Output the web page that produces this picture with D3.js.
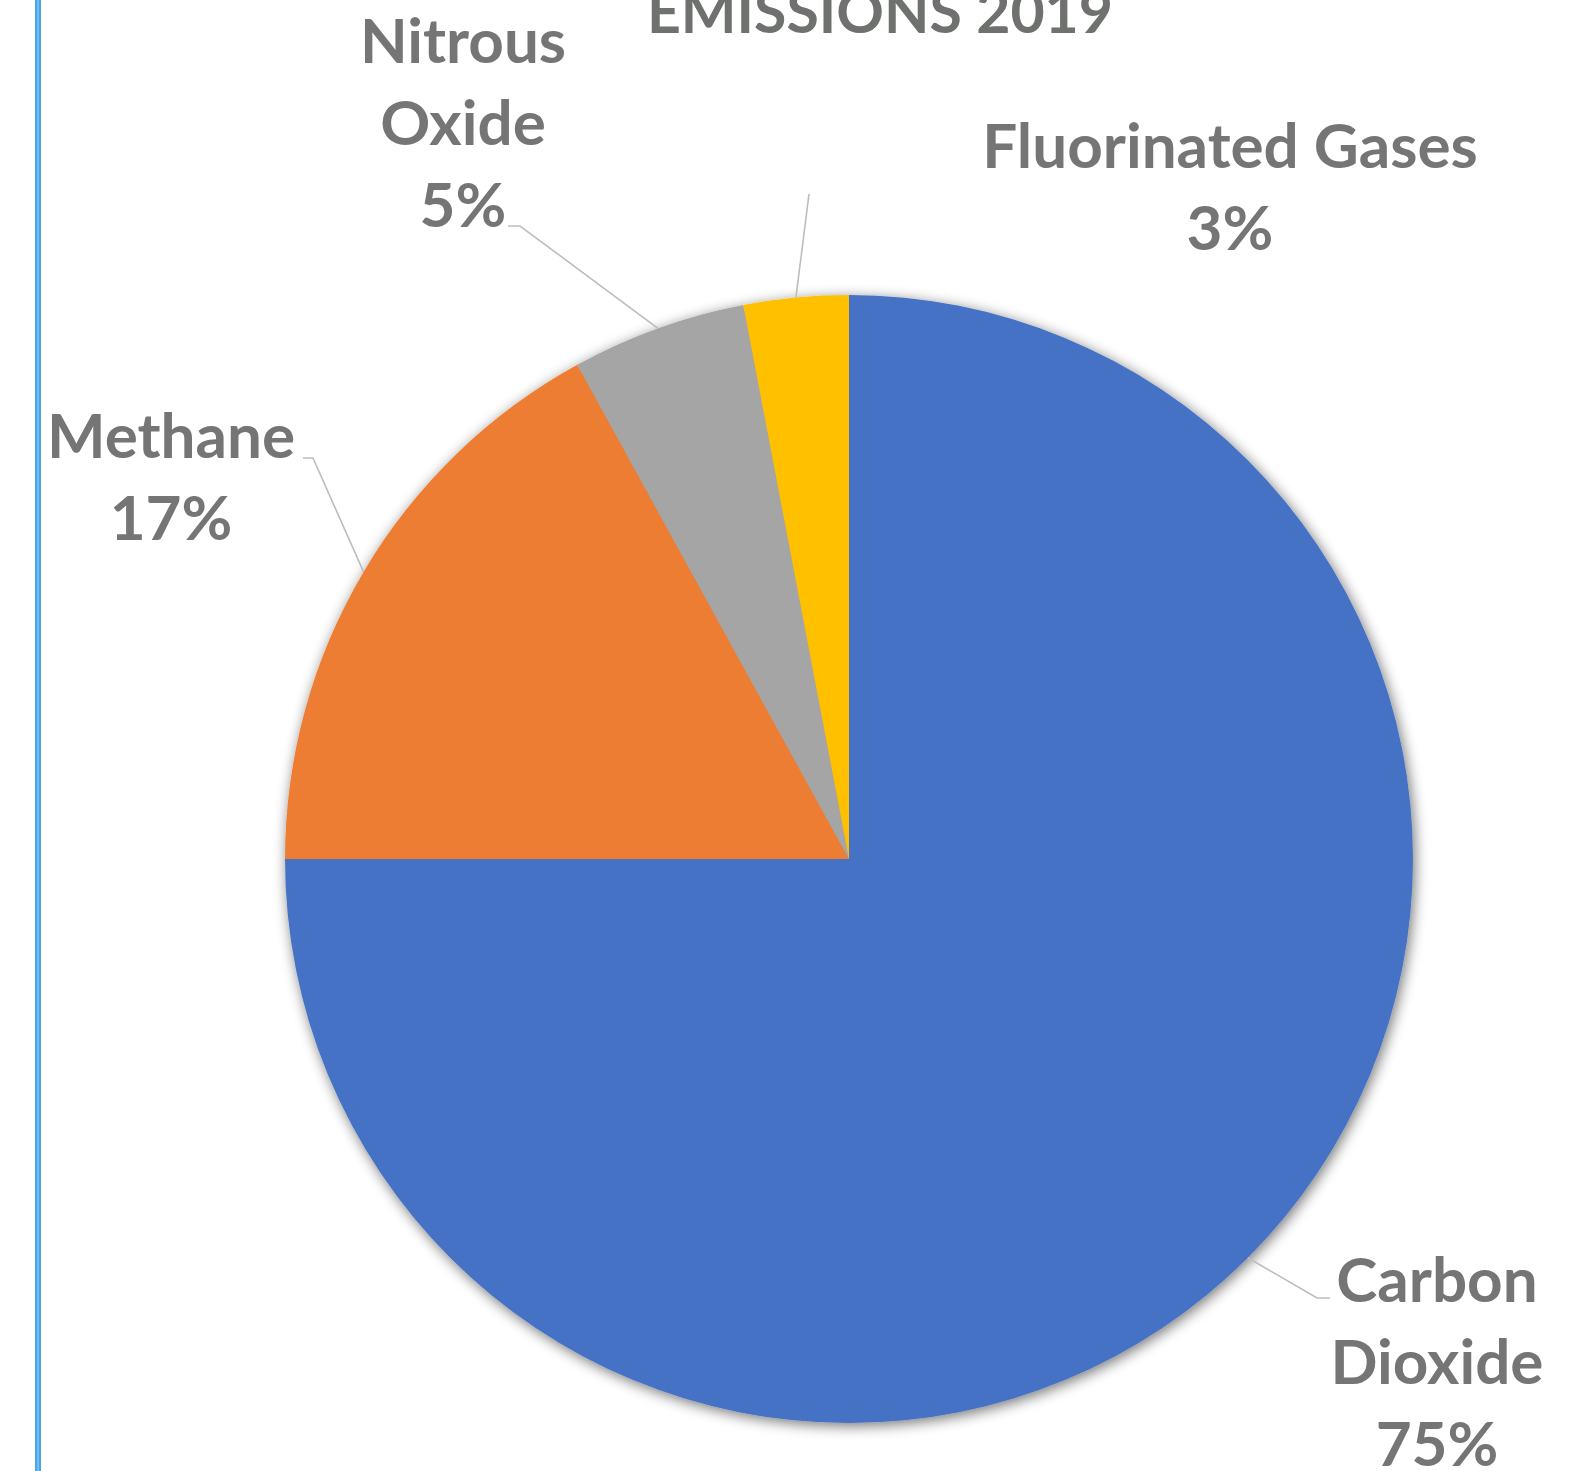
<!DOCTYPE html>
<html>
<head>
<meta charset="utf-8">
<script src="https://cdn.jsdelivr.net/npm/d3@7"></script>
<style>
  html, body { margin: 0; padding: 0; background: #ffffff; }
  svg { display: block; }
</style>
</head>
<body>
<svg id="chart" width="1594" height="1471"></svg>
<script>
// ---- data ----
const categories = ["Carbon Dioxide", "Methane", "Nitrous Oxide", "Fluorinated Gases"];
const values = [75, 17, 5, 3];
const labelLines = [["Carbon", "Dioxide"], ["Methane"], ["Nitrous", "Oxide"], ["Fluorinated Gases"]];
const colors = ["#4472C4", "#ED7D31", "#A5A5A5", "#FFC000"];
const titleText = "EMISSIONS 2019";

// ---- layout ----
const W = 1594, H = 1471;
const cx = 849, cy = 859, R = 564;
const fontFamily = "Lato, 'Open Sans', sans-serif";
const labelColor = "#757575";
const lineH = 82;
// label placement: text center x, first baseline y, leader path end points (elbow, end)
const labelLayout = [
  { x: 1437, y: 1302, elbow: [1317, 1298], end: [1330, 1298] },
  { x: 171,  y: 458,  elbow: [313, 458],  end: [303, 458] },
  { x: 463,  y: 63,   elbow: [520, 226],  end: [508, 226] },
  { x: 1230, y: 168,  elbow: [809, 194],  end: [809, 194] }
];

const svg = d3.select("#chart");

// soft shadow filter
const defs = svg.append("defs");
const f = defs.append("filter").attr("id", "shadow")
  .attr("x", "-10%").attr("y", "-10%").attr("width", "120%").attr("height", "120%");
f.append("feGaussianBlur").attr("in", "SourceAlpha").attr("stdDeviation", 7).attr("result", "blur");
f.append("feOffset").attr("in", "blur").attr("dx", 2).attr("dy", 3).attr("result", "off");
f.append("feComponentTransfer").attr("in", "off").attr("result", "sh")
  .append("feFuncA").attr("type", "linear").attr("slope", 0.55);
const fm = f.append("feMerge");
fm.append("feMergeNode").attr("in", "sh");
fm.append("feMergeNode").attr("in", "SourceGraphic");

// left blue frame line
svg.append("rect").attr("x", 35).attr("y", 0).attr("width", 6).attr("height", H).attr("fill", "#4aa6e6");
svg.append("rect").attr("x", 37).attr("y", 0).attr("width", 2).attr("height", H).attr("fill", "#6fbdf0");

// title (partly cut at top)
svg.append("text")
  .attr("x", 880).attr("y", 33)
  .attr("text-anchor", "middle")
  .attr("font-family", fontFamily).attr("font-weight", 700)
  .attr("font-size", 59)
  .attr("fill", "#6e716e")
  .text(titleText);

const data = categories.map((c, i) => ({ name: c, value: values[i], i }));
const pie = d3.pie().sort(null).value(d => d.value);
const arcs = pie(data);
const arc = d3.arc().innerRadius(0).outerRadius(R);

const g = svg.append("g").attr("transform", `translate(${cx},${cy})`);
g.append("g").attr("filter", "url(#shadow)")
  .selectAll("path").data(arcs).join("path")
  .attr("d", arc)
  .attr("fill", d => colors[d.data.i]);

// leader lines
arcs.forEach(a => {
  const mid = (a.startAngle + a.endAngle) / 2;
  const sx = cx + R * Math.sin(mid);
  const sy = cy - R * Math.cos(mid);
  const L = labelLayout[a.data.i];
  svg.append("polyline")
    .attr("points", `${sx},${sy} ${L.elbow[0]},${L.elbow[1]} ${L.end[0]},${L.end[1]}`)
    .attr("fill", "none").attr("stroke", "#bdbdbd").attr("stroke-width", 1.6);
});

// labels
arcs.forEach(a => {
  const L = labelLayout[a.data.i];
  const lines = labelLines[a.data.i].concat([a.data.value + "%"]);
  const t = svg.append("text")
    .attr("text-anchor", "middle")
    .attr("font-family", fontFamily).attr("font-weight", 700)
    .attr("font-size", 62)
    .attr("fill", labelColor);
  lines.forEach((s, k) => {
    t.append("tspan").attr("x", L.x).attr("y", L.y + k * lineH).text(s);
  });
});
</script>
</body>
</html>
